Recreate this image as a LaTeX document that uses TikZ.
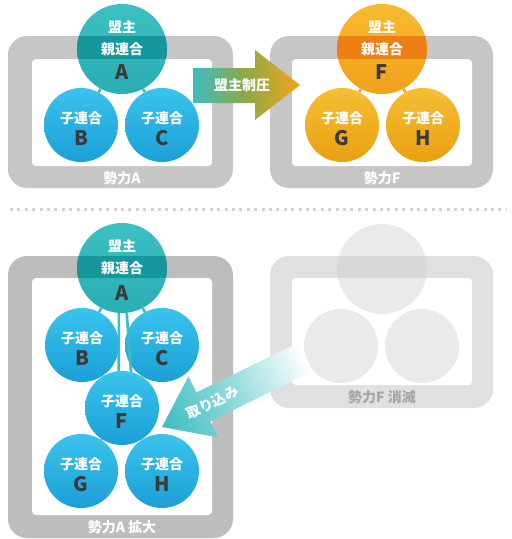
\documentclass[tikz,border=0pt]{standalone}
\usepackage{fontspec}
\newfontfamily\jp{Noto Sans CJK JP}[BoldFont={Noto Sans CJK JP Bold}]
\newfontfamily\jpblack{Noto Sans CJK JP Black}
\usetikzlibrary{calc}
\definecolor{frameC}{HTML}{C6C6C6}
\definecolor{frameD}{HTML}{BDBDBD}
\definecolor{frameL}{HTML}{E0E0E0}
\definecolor{fadeC}{HTML}{EAEAEA}
\definecolor{fadeB}{HTML}{D8D8D8}
\definecolor{tealT}{HTML}{3CC0C2}
\definecolor{tealB}{HTML}{2AADB3}
\definecolor{tealBand}{HTML}{16979D}
\definecolor{blueT}{HTML}{3AC3EC}
\definecolor{blueB}{HTML}{1C9FD6}
\definecolor{orT}{HTML}{F8BA2E}
\definecolor{orB}{HTML}{F0A01C}
\definecolor{orBand}{HTML}{EE7F14}
\definecolor{yoT}{HTML}{F7BE34}
\definecolor{yoB}{HTML}{E9A012}
\definecolor{conTeal}{HTML}{3DBAC6}
\definecolor{conOr}{HTML}{EDA52A}
\definecolor{letcol}{HTML}{3A3A3A}
\definecolor{dotcol}{HTML}{D2D2D2}
\definecolor{arrTeal}{HTML}{3CBDC0}
\definecolor{arrOl}{HTML}{8FAA44}
\definecolor{arrOr}{HTML}{F5A41A}
\definecolor{fadeTxt}{HTML}{A6A6A6}
\tikzset{
  parent/.style={circle, minimum size=90pt, inner sep=0pt},
  child/.style={circle, minimum size=74pt, inner sep=0pt},
  tealP/.style={parent, top color=tealT, bottom color=tealB},
  blueC/.style={child, top color=blueT, bottom color=blueB},
  orP/.style={parent, top color=orT, bottom color=orB},
  yoC/.style={child, top color=yoT, bottom color=yoB},
  fadeP/.style={parent, fill=fadeC},
  fadeCh/.style={child, fill=fadeC},
  jpw/.style={font=\jpblack\fontsize{14}{14}\selectfont, text=white, inner sep=0pt},
  letter/.style={font=\jpblack\fontsize{20}{20}\selectfont, text=letcol, inner sep=0pt},
  lab/.style={font=\jpblack\fontsize{14}{14}\selectfont, text=white, inner sep=0pt},
  conT/.style={draw=conTeal, line width=2.6pt},
  conO/.style={draw=conOr, line width=2.6pt},
}
\begin{document}
\begin{tikzpicture}[x=1pt,y=-1pt]
\useasboundingbox (0,0) rectangle (512,539);
\fill[white] (0,0) rectangle (512,539);

% ---------- top left: group A ----------
\fill[frameC, rounded corners=19pt] (8,36) rectangle (233,188);
\fill[white, rounded corners=4pt] (32,59) rectangle (212,166);
\node[lab] (labA) at (122,178) {勢力A};
\node[tealP] (A1) at (122,49) {};
\begin{scope}
  \clip (A1) circle (45);
  \fill[tealBand] (70,36) rectangle (180,59);
\end{scope}
\node[jpw] (A1t) at ($(A1)+(0,-22)$) {盟主};
\node[jpw] (A1u) at ($(A1)+(0,0)$) {親連合};
\node[letter] (A1l) at ($(A1)+(0,23)$) {A};
\node[blueC] (B1) at (81,125) {};
\node[jpw] (B1t) at ($(B1)+(0,-7)$) {子連合};
\node[letter] (B1l) at ($(B1)+(0,13)$) {B};
\node[blueC] (C1) at (162,125) {};
\node[jpw] (C1t) at ($(C1)+(0,-7)$) {子連合};
\node[letter] (C1l) at ($(C1)+(0,13)$) {C};
\draw[conT] (A1) -- (B1);
\draw[conT] (A1) -- (C1);

% ---------- top right: group F ----------
\fill[frameC, rounded corners=19pt] (270,36) rectangle (493,188);
\fill[white, rounded corners=4pt] (292,59) rectangle (472,166);
\node[lab] (labF) at (382,178) {勢力F};
\node[orP] (F1) at (382,49) {};
\begin{scope}
  \clip (F1) circle (45);
  \fill[orBand] (330,36) rectangle (440,59);
\end{scope}
\node[jpw] (F1t) at ($(F1)+(0,-22)$) {盟主};
\node[jpw] (F1u) at ($(F1)+(0,0)$) {親連合};
\node[letter] (F1l) at ($(F1)+(0,23)$) {F};
\node[yoC] (G1) at (342,125) {};
\node[jpw] (G1t) at ($(G1)+(0,-7)$) {子連合};
\node[letter] (G1l) at ($(G1)+(0,13)$) {G};
\node[yoC] (H1) at (423,125) {};
\node[jpw] (H1t) at ($(H1)+(0,-7)$) {子連合};
\node[letter] (H1l) at ($(H1)+(0,13)$) {H};
\draw[conO] (F1) -- (G1);
\draw[conO] (F1) -- (H1);

% ---------- arrow 盟主制圧 ----------
\shade[left color=arrTeal, right color=arrOr, middle color=arrOl]
  (193,68) -- (255,68) -- (255,50) -- (300,85) -- (255,120) -- (255,103) -- (193,103) -- cycle;
\node[jpw] (arr1t) at (242,85) {盟主制圧};

% ---------- dotted separator ----------
\draw[dotcol, line width=3pt, dash pattern=on 3pt off 4.4pt] (10,209) -- (506,209);

% ---------- bottom right: faded group F ----------
\fill[frameL, rounded corners=19pt] (270,256) rectangle (493,408);
\fill[white, rounded corners=4pt] (292,278) rectangle (472,385);
\node[font=\jpblack\fontsize{14}{14}\selectfont, text=fadeTxt, inner sep=0pt] (labF2) at (382,397) {勢力F 消滅};
\node[fadeP] (F3) at (382,269) {};
\begin{scope}
  \clip (F3) circle (45);
  \fill[fadeB] (330,256) rectangle (440,278);
\end{scope}
\node[fadeCh] (G3) at (341,346) {};
\node[fadeCh] (H3) at (422,346) {};

% ---------- bottom left: group A enlarged ----------
\fill[frameD, rounded corners=19pt] (8,256) rectangle (233,538);
\fill[white, rounded corners=4pt] (32,278) rectangle (212,515);
\node[lab] (labA2) at (122,527) {勢力A 拡大};
\node[tealP] (A2) at (122,268) {};
\begin{scope}
  \clip (A2) circle (45);
  \fill[tealBand] (70,256) rectangle (180,278);
\end{scope}
\node[jpw] (A2t) at ($(A2)+(0,-22)$) {盟主};
\node[jpw] (A2u) at ($(A2)+(0,0)$) {親連合};
\node[letter] (A2l) at ($(A2)+(0,25)$) {A};
\node[blueC] (B2) at (82,345) {};
\node[jpw] (B2t) at ($(B2)+(0,-7)$) {子連合};
\node[letter] (B2l) at ($(B2)+(0,13)$) {B};
\node[blueC] (C2) at (162,345) {};
\node[jpw] (C2t) at ($(C2)+(0,-7)$) {子連合};
\node[letter] (C2l) at ($(C2)+(0,13)$) {C};
\node[blueC] (F2) at (122,408) {};
\node[jpw] (F2t) at ($(F2)+(0,-7)$) {子連合};
\node[letter] (F2l) at ($(F2)+(0,13)$) {F};
\node[blueC] (G2) at (81,471) {};
\node[jpw] (G2t) at ($(G2)+(0,-7)$) {子連合};
\node[letter] (G2l) at ($(G2)+(0,13)$) {G};
\node[blueC] (H2) at (162,471) {};
\node[jpw] (H2t) at ($(H2)+(0,-7)$) {子連合};
\node[letter] (H2l) at ($(H2)+(0,13)$) {H};
\draw[conT] (A2) -- (B2);
\draw[conT] (A2) -- (C2);
\draw[conT] (A2.-94) -- (F2.95);
\draw[conT] (A2.-84) -- (F2.76);
\draw[conT] (B2) -- (F2);
\draw[conT] (C2) -- (F2);
\draw[conT] (F2) -- (G2);
\draw[conT] (F2) -- (H2);

% ---------- arrow 取り込み ----------
\begin{scope}[transform canvas={shift={(162,427)}, rotate=26}]
  \shade[left color=arrTeal, right color=white, middle color=arrTeal!55]
    (0,0) -- (46,-34) -- (46,-16) -- (160,-16) -- (160,16) -- (46,16) -- (46,34) -- cycle;
  \node[jpw] (arr2t) at (56,0) {取り込み};
\end{scope}
\end{tikzpicture}
\end{document}
